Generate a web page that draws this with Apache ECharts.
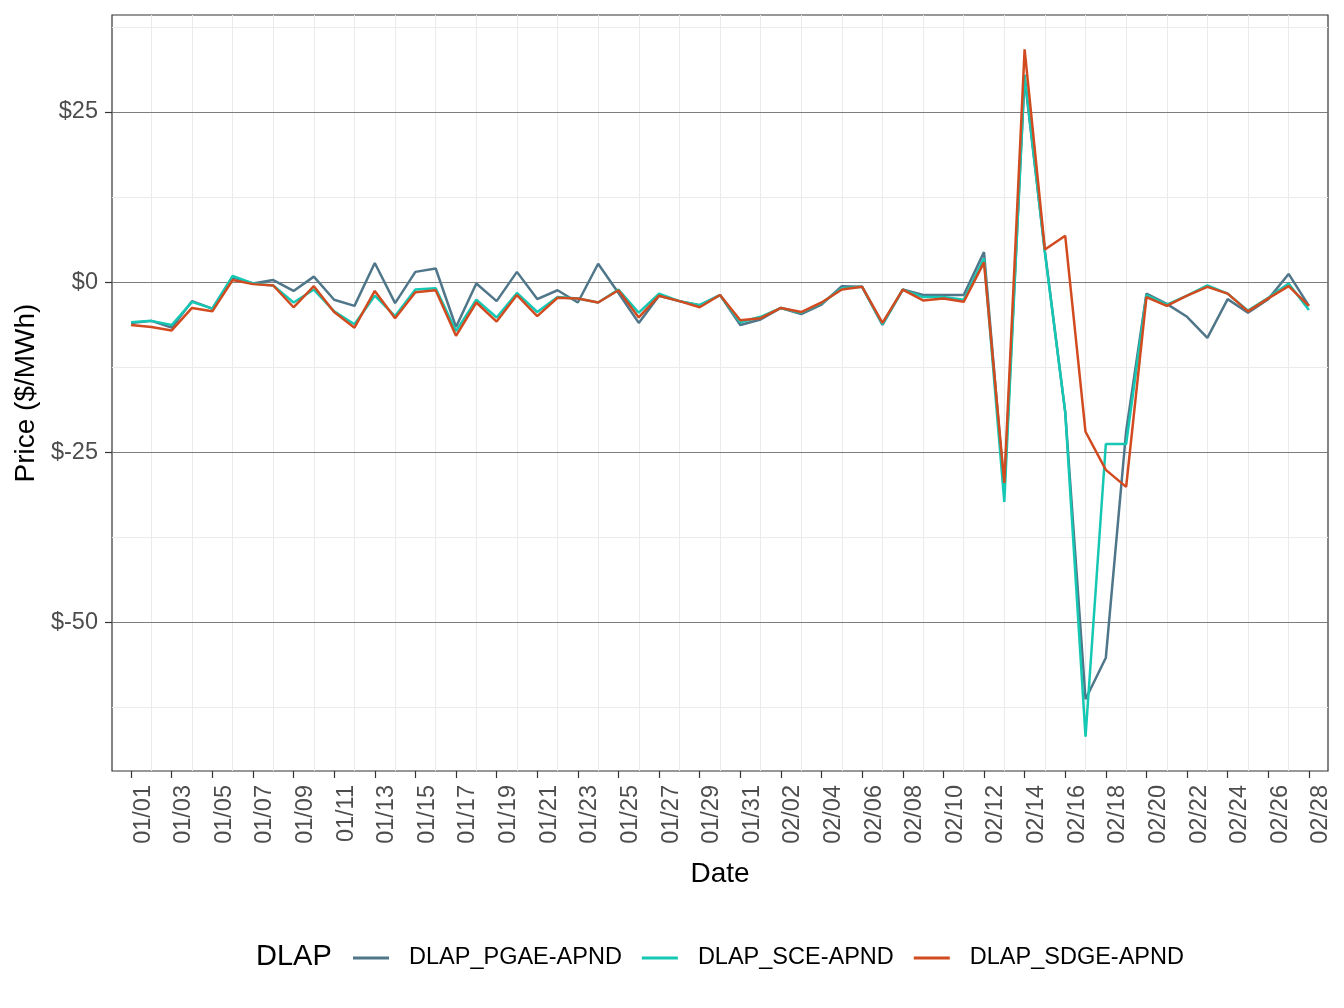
<!DOCTYPE html>
<html>
<head>
<meta charset="utf-8">
<title>DLAP prices</title>
<script src="https://cdn.jsdelivr.net/npm/echarts@6/dist/echarts.min.js"></script>
<style>
html, body { margin: 0; padding: 0; background: #fff; }
#main { width: 1344px; height: 1008px; }
</style>
</head>
<body>
<div id="main"></div>
<script>
// dates on the x axis (one per day)
var dates = ['01/01','01/02','01/03','01/04','01/05','01/06','01/07','01/08','01/09','01/10',
  '01/11','01/12','01/13','01/14','01/15','01/16','01/17','01/18','01/19','01/20',
  '01/21','01/22','01/23','01/24','01/25','01/26','01/27','01/28','01/29','01/30',
  '01/31','02/01','02/02','02/03','02/04','02/05','02/06','02/07','02/08','02/09',
  '02/10','02/11','02/12','02/13','02/14','02/15','02/16','02/17','02/18','02/19',
  '02/20','02/21','02/22','02/23','02/24','02/25','02/26','02/27','02/28'];

var seriesNames = ['DLAP_PGAE-APND', 'DLAP_SCE-APND', 'DLAP_SDGE-APND'];

// daily price, $/MWh
var pgae = [-6.0,-5.7,-6.7,-2.8,-3.9,0.7,-0.2,0.3,-1.3,0.8,
  -2.6,-3.5,2.8,-3.1,1.5,2.0,-6.6,-0.2,-2.8,1.5,
  -2.5,-1.2,-3.0,2.7,-1.6,-6.0,-2.0,-2.8,-3.4,-1.9,
  -6.3,-5.5,-3.8,-4.7,-3.3,-0.6,-0.7,-6.3,-1.1,-1.9,
  -1.9,-1.9,4.4,-30.5,30.0,4.5,-19.1,-61.3,-55.2,-21.9,
  -1.7,-3.2,-5.1,-8.2,-2.5,-4.5,-2.5,1.2,-3.5];
var sce = [-5.9,-5.7,-6.3,-2.9,-3.9,0.9,-0.2,-0.5,-3.0,-1.1,
  -4.3,-6.2,-2.0,-5.0,-1.1,-0.9,-7.2,-2.6,-5.2,-1.6,
  -4.4,-2.2,-2.4,-3.0,-1.1,-4.5,-1.7,-2.8,-3.4,-1.9,
  -5.9,-5.1,-3.8,-4.5,-3.1,-0.9,-0.7,-6.2,-1.1,-2.2,
  -2.2,-2.6,3.5,-32.3,30.5,4.3,-19.1,-66.8,-23.8,-23.8,
  -1.9,-3.3,-2.0,-0.5,-1.7,-4.2,-2.3,-0.2,-4.1];
var sdge = [-6.3,-6.6,-7.1,-3.8,-4.3,0.3,-0.3,-0.5,-3.7,-0.6,
  -4.4,-6.7,-1.3,-5.3,-1.5,-1.2,-7.9,-3.0,-5.8,-1.9,
  -5.0,-2.3,-2.4,-3.0,-1.2,-5.2,-2.0,-2.8,-3.7,-1.9,
  -5.6,-5.3,-3.8,-4.4,-3.0,-1.1,-0.7,-6.0,-1.1,-2.7,
  -2.4,-2.9,2.9,-29.5,34.2,4.8,6.8,-22.0,-27.6,-30.1,
  -2.2,-3.5,-2.0,-0.7,-1.7,-4.3,-2.4,-0.6,-3.5];

// tick values
var yTicks = [-50, -25, 0, 25];
var yMinor = [-62.5, -37.5, -12.5, 12.5, 37.5];

var colors = ['#4F7689', '#14C8B4', '#D24A1F'];
var font = "'Liberation Sans', Arial, Helvetica, sans-serif";

// labelled days every 2, light grid lines on the days between
var xTicks = [], xMinor = [];
for (var i = 0; i < dates.length; i++) {
  if (i % 2 == 0) xTicks.push(i); else xMinor.push(i);
}

// y range like ggplot: data range + 5% each side
function getMax(arr) {
  var max = arr[0];
  for (var i = 0; i < arr.length; i++) if (arr[i] > max) max = arr[i];
  return max;
}
function getMin(arr) {
  var min = arr[0];
  for (var i = 0; i < arr.length; i++) if (arr[i] < min) min = arr[i];
  return min;
}
var all = pgae.concat(sce, sdge);
var dMax = getMax(all), dMin = getMin(all);
var yMax = dMax + (dMax - dMin) * 0.05;
var yMin = dMin - (dMax - dMin) * 0.05;

function toPairs(vals) {
  var out = [];
  for (var i = 0; i < vals.length; i++) out.push([i, vals[i]]);
  return out;
}

var light = {color: '#EBEBEB', width: 1, type: 'solid'};
var dark = {color: '#6E6E6E', width: 0.9, type: 'solid'};
var gridLines = [];
for (var i = 0; i < xMinor.length; i++) gridLines.push({xAxis: xMinor[i], lineStyle: light});
for (var i = 0; i < yMinor.length; i++) gridLines.push({yAxis: yMinor[i], lineStyle: light});
for (var i = 0; i < yTicks.length; i++) gridLines.push({yAxis: yTicks[i], lineStyle: dark});

var myChart = echarts.init(document.getElementById('main'), null, {renderer: 'canvas'});

var option = {
  animation: false,
  backgroundColor: '#fff',
  color: colors,
  textStyle: {fontFamily: font},
  title: {
    text: 'DLAP',
    left: 251,
    top: 937,
    textStyle: {fontFamily: font, fontSize: 29, fontWeight: 'normal', color: '#000'}
  },
  legend: {
    data: seriesNames,
    left: 348,
    top: 941,
    icon: 'rect',
    itemWidth: 36,
    itemHeight: 3,
    itemGap: 20,
    textStyle: {fontFamily: font, fontSize: 23.5, color: '#000', padding: [0, 0, 0, 15]}
  },
  grid: {
    left: 112, right: 16, top: 15, bottom: 237,
    show: true, borderColor: '#333333', borderWidth: 1.2, backgroundColor: '#fff'
  },
  xAxis: {
    type: 'value',
    min: -0.94,
    max: 58.94,
    name: 'Date',
    nameLocation: 'middle',
    nameGap: 89,
    nameTextStyle: {fontFamily: font, fontSize: 28, color: '#000', verticalAlign: 'top'},
    axisLine: {show: false, onZero: false},
    splitLine: {show: false},
    axisTick: {show: true, length: 7, customValues: xTicks, lineStyle: {color: '#333', width: 1.2}},
    axisLabel: {
      customValues: xTicks,
      rotate: 90,
      margin: 14,
      verticalAlign: 'top',
      fontFamily: font, fontSize: 23.5, color: '#4D4D4D',
      formatter: function (v) { return dates[Math.round(v)]; }
    }
  },
  yAxis: {
    type: 'value',
    min: yMin,
    max: yMax,
    name: 'Price ($/MWh)',
    nameLocation: 'middle',
    nameGap: 68,
    nameTextStyle: {fontFamily: font, fontSize: 28, color: '#000'},
    axisLine: {show: false, onZero: false},
    splitLine: {show: false},
    axisTick: {show: true, length: 7, customValues: yTicks, lineStyle: {color: '#333', width: 1.2}},
    axisLabel: {
      customValues: yTicks,
      margin: 14,
      fontFamily: font, fontSize: 23.5, color: '#4D4D4D',
      formatter: function (v) { return '$' + v; }
    }
  },
  series: [
    {
      // only carries the panel grid lines, kept under the data lines
      name: 'gridlines', type: 'line', data: [], z: 1, silent: true,
      markLine: {silent: true, z: 1, symbol: 'none', label: {show: false}, animation: false,
        lineStyle: {type: 'solid'}, data: gridLines}
    },
    {name: seriesNames[0], type: 'line', data: toPairs(pgae), showSymbol: false, symbol: 'none', z: 3, lineStyle: {width: 2.5, color: colors[0]}, itemStyle: {color: colors[0]}},
    {name: seriesNames[1], type: 'line', data: toPairs(sce), showSymbol: false, symbol: 'none', z: 4, lineStyle: {width: 2.5, color: colors[1]}, itemStyle: {color: colors[1]}},
    {name: seriesNames[2], type: 'line', data: toPairs(sdge), showSymbol: false, symbol: 'none', z: 5, lineStyle: {width: 2.5, color: colors[2]}, itemStyle: {color: colors[2]}}
  ]
};
myChart.setOption(option);
</script>
</body>
</html>
